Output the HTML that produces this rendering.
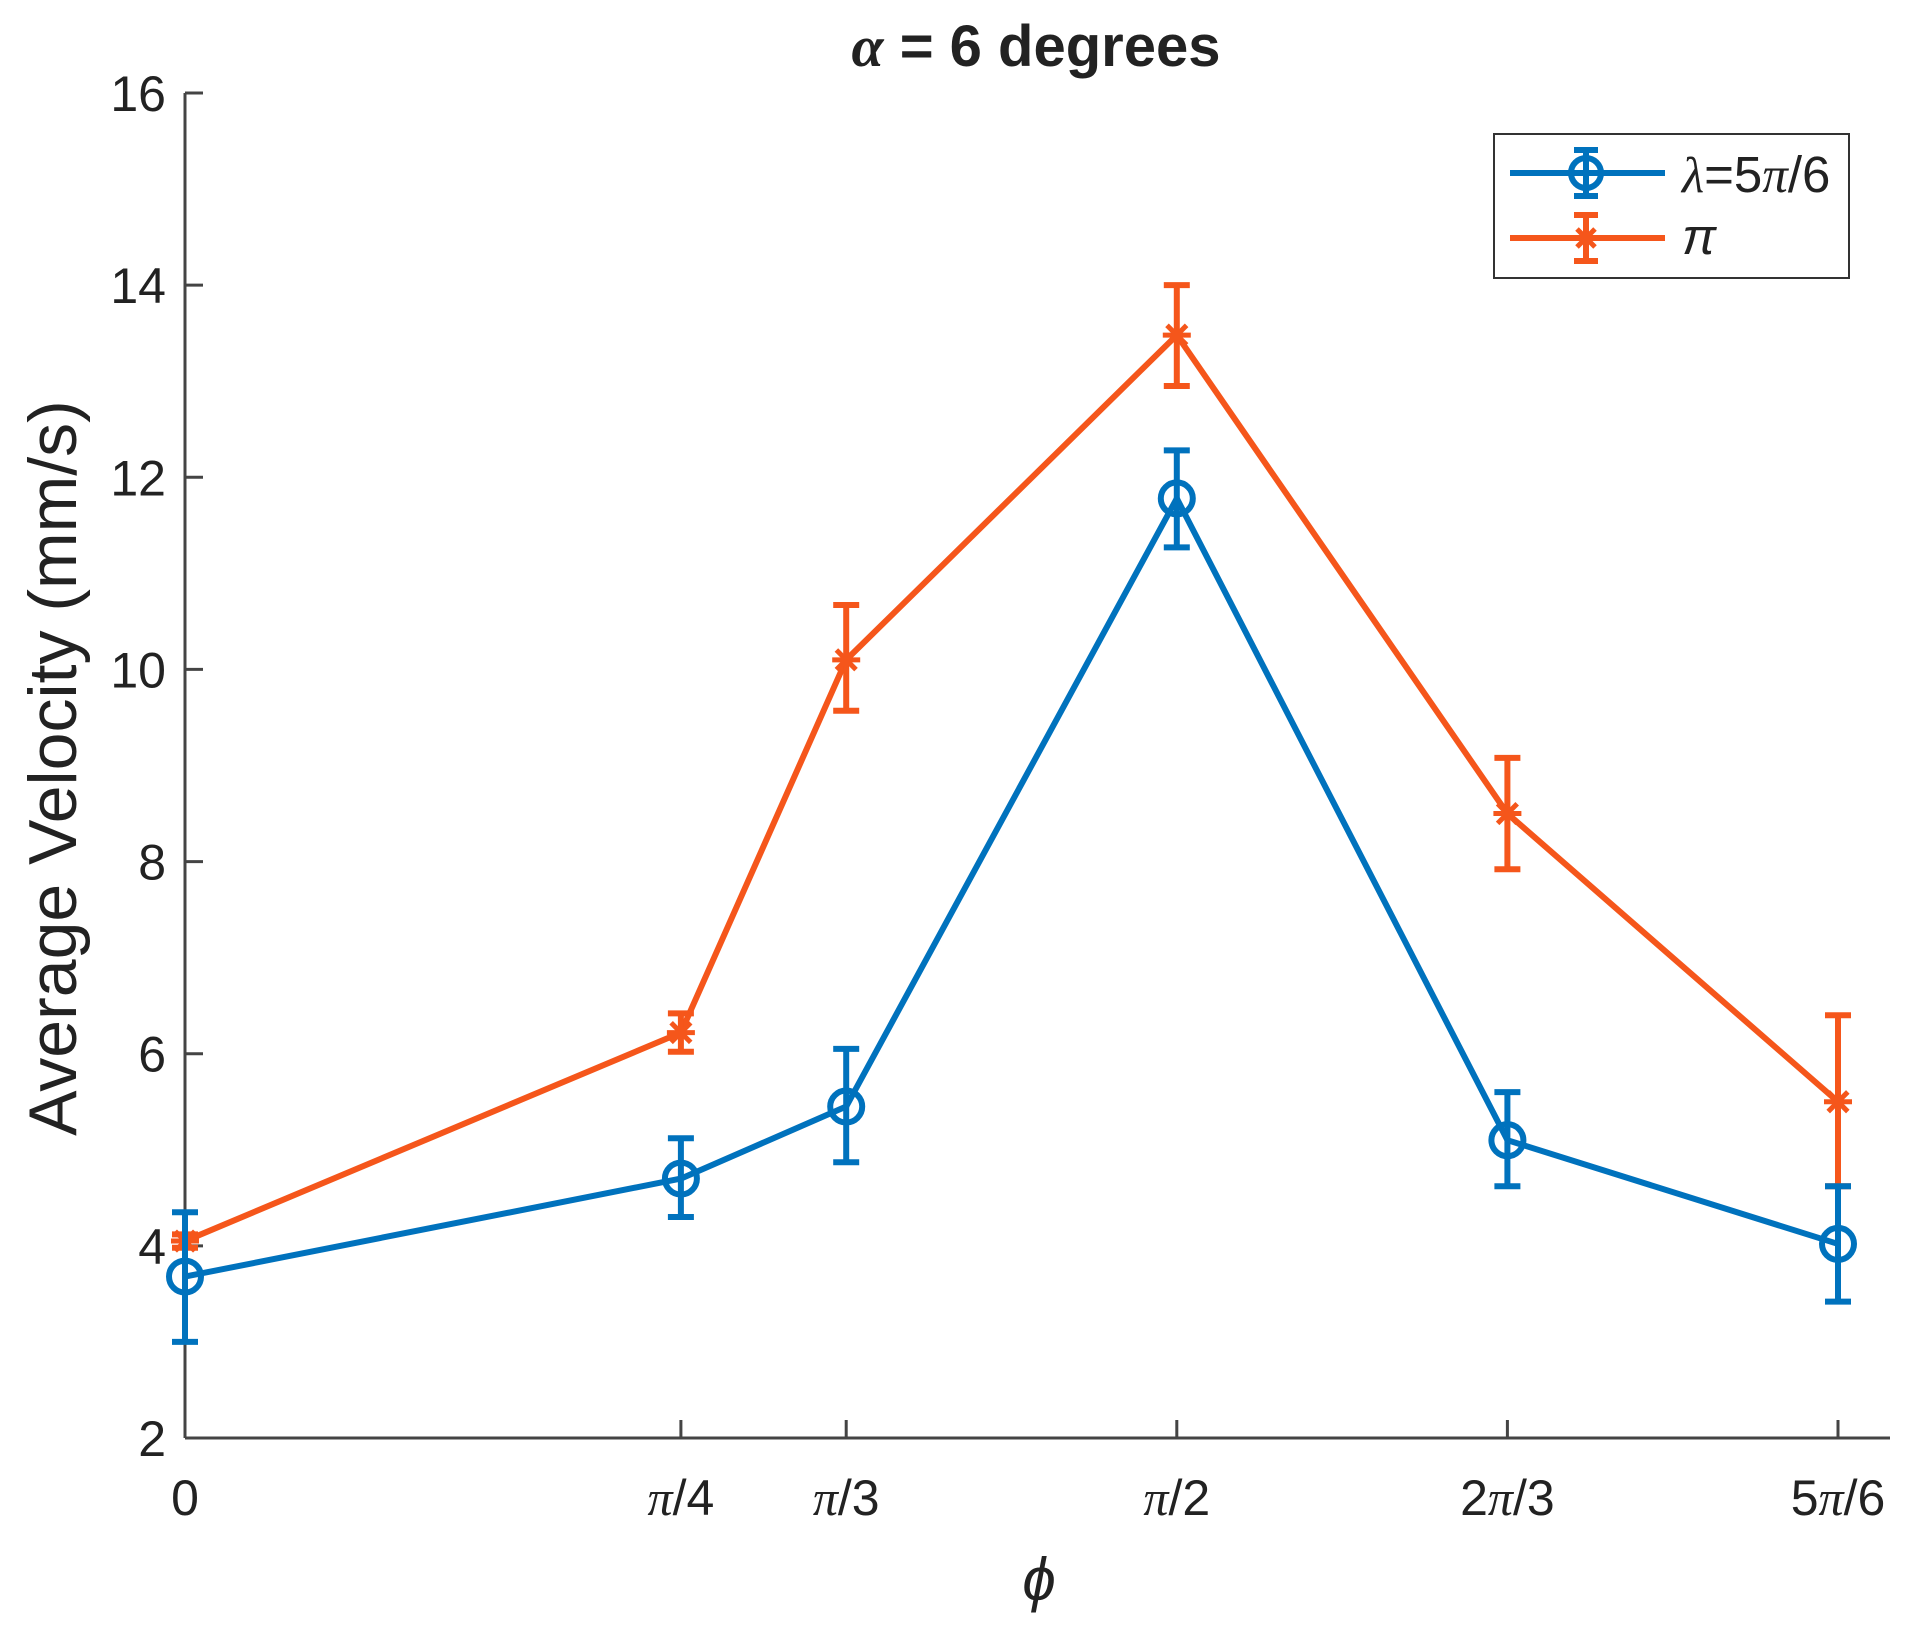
<!DOCTYPE html>
<html><head><meta charset="utf-8"><style>
html,body{margin:0;padding:0;background:#fff;}
svg text{font-family:"Liberation Sans",sans-serif;fill:#222;}
</style></head><body>
<svg id="chart" width="1905" height="1637" viewBox="0 0 1905 1637" xmlns="http://www.w3.org/2000/svg">
<rect width="1905" height="1637" fill="#fff"/>
<text x="1036" y="66" text-anchor="middle" font-size="58" font-weight="bold"><tspan font-family="Liberation Serif" font-style="italic">α</tspan> = 6 degrees</text>
<g id="axes"></g>
<g id="series"></g>
<text transform="translate(76,768) rotate(-90)" text-anchor="middle" font-size="68">Average Velocity (mm/s)</text>
<text x="1039" y="1600" text-anchor="middle" font-size="60" font-family="Liberation Serif" font-style="italic">ϕ</text>
<g>
<rect x="1494" y="134" width="355" height="144" fill="#fff" stroke="#333" stroke-width="2"/>
<g>
<line x1="1510" y1="173" x2="1665" y2="173" stroke="#0072BD" stroke-width="6"/>
<line x1="1586" y1="150" x2="1586" y2="196" stroke="#0072BD" stroke-width="6"/>
<line x1="1574" y1="150" x2="1598" y2="150" stroke="#0072BD" stroke-width="6"/>
<line x1="1574" y1="196" x2="1598" y2="196" stroke="#0072BD" stroke-width="6"/>
<circle cx="1586" cy="173" r="15" fill="none" stroke="#0072BD" stroke-width="6"/>
<text x="1682" y="192" font-size="51"><tspan font-family="Liberation Serif" font-style="italic">λ</tspan>=5<tspan font-family="Liberation Serif" font-style="italic">π</tspan>/6</text>
</g>
<g stroke="#F5561B">
<line x1="1510" y1="238" x2="1665" y2="238" stroke-width="6"/>
<line x1="1586" y1="215" x2="1586" y2="261" stroke-width="6"/>
<line x1="1574" y1="215" x2="1598" y2="215" stroke-width="6"/>
<line x1="1574" y1="261" x2="1598" y2="261" stroke-width="6"/>
<line x1="1577" y1="229" x2="1595" y2="247" stroke-width="5"/>
<line x1="1577" y1="247" x2="1595" y2="229" stroke-width="5"/>
<text x="1682" y="254" font-size="51" font-family="Liberation Serif" font-style="italic" stroke="none">π</text>
</g>
</g>
</svg>
<script>
const categories = ["0","π/4","π/3","π/2","2π/3","5π/6"];
const xUnits = [0,3,4,6,8,10];
const yTicks = [2,4,6,8,10,12,14,16];
const blueVals = [3.68,4.7,5.45,11.78,5.1,4.02];
const blueLo = [3.0,4.3,4.87,11.27,4.62,3.42];
const blueHi = [4.35,5.12,6.05,12.28,5.6,4.62];
const orangeVals = [4.05,6.22,10.1,13.48,8.5,5.5];
const orangeLo = [3.98,6.02,9.57,12.95,7.92,4.62];
const orangeHi = [4.12,6.42,10.67,14.0,9.08,6.4];

const NS="http://www.w3.org/2000/svg";
const X0=185,X1=1838,XR=1890,Y0=1438,Y1=93;
const xs=u=>X0+(X1-X0)*u/10;
const ys=v=>Y0-(Y0-Y1)*(v-2)/14;
function mk(tag,attrs,parent){const e=document.createElementNS(NS,tag);for(const k in attrs)e.setAttribute(k,attrs[k]);parent.appendChild(e);return e;}
const axes=document.getElementById('axes');
const xa=mk('line',{x1:X0,y1:Y0,x2:XR,y2:Y0,stroke:'#444','stroke-width':3},axes);


const ya=mk('line',{x1:X0,y1:Y0,x2:X0,y2:Y1,stroke:'#444','stroke-width':3},axes);


yTicks.forEach(t=>{
  const y=ys(t);
  mk('line',{x1:X0,y1:y,x2:X0+18,y2:y,stroke:'#444','stroke-width':3},axes);
  const tx=mk('text',{x:166,y:y+18,'text-anchor':'end','font-size':50},axes);
  tx.textContent=t;
  
  
});
categories.forEach((c,i)=>{
  const x=xs(xUnits[i]);
  mk('line',{x1:x,y1:Y0,x2:x,y2:Y0-18,stroke:'#444','stroke-width':3},axes);
  const tx=mk('text',{x:x,y:1515,'text-anchor':'middle','font-size':50},axes);
  
  
  c.split(/(π)/).forEach(p=>{if(!p)return;const s=mk('tspan',{},tx);s.textContent=p;if(p==='π'){s.setAttribute('font-family','Liberation Serif');s.setAttribute('font-style','italic');}});
});
const ser=document.getElementById('series');
function drawSeries(vals,lo,hi,color,name,marker){
  const g=mk('g',{},ser);
  
  
  const pts=vals.map((v,i)=>xs(xUnits[i])+','+ys(v)).join(' ');
  mk('polyline',{points:pts,fill:'none',stroke:color,'stroke-width':6,'stroke-linejoin':'round'},g);
  vals.forEach((v,i)=>{
    const x=xs(xUnits[i]);
    const eb=mk('g',{stroke:color,'stroke-width':6,fill:'none'},g);
    
    
    mk('line',{x1:x,y1:ys(lo[i]),x2:x,y2:ys(hi[i])},eb);
    mk('line',{x1:x-13,y1:ys(lo[i]),x2:x+13,y2:ys(lo[i])},eb);
    mk('line',{x1:x-13,y1:ys(hi[i]),x2:x+13,y2:ys(hi[i])},eb);
    const y=ys(v);
    if(marker==='o'){
      const c=mk('circle',{cx:x,cy:y,r:16,fill:'none',stroke:color,'stroke-width':6},g);
      
      
    } else {
      const m=mk('g',{stroke:color,'stroke-width':5},g);
      
      
      const r=14;
      mk('line',{x1:x,y1:y-r,x2:x,y2:y+r},m);
      mk('line',{x1:x-r,y1:y,x2:x+r,y2:y},m);
      mk('line',{x1:x-r*0.7,y1:y-r*0.7,x2:x+r*0.7,y2:y+r*0.7},m);
      mk('line',{x1:x-r*0.7,y1:y+r*0.7,x2:x+r*0.7,y2:y-r*0.7},m);
    }
  });
}
drawSeries(orangeVals,orangeLo,orangeHi,'#F5561B','series-pi','*');
drawSeries(blueVals,blueLo,blueHi,'#0072BD','series-lambda-5pi6','o');
</script>
</body></html>
